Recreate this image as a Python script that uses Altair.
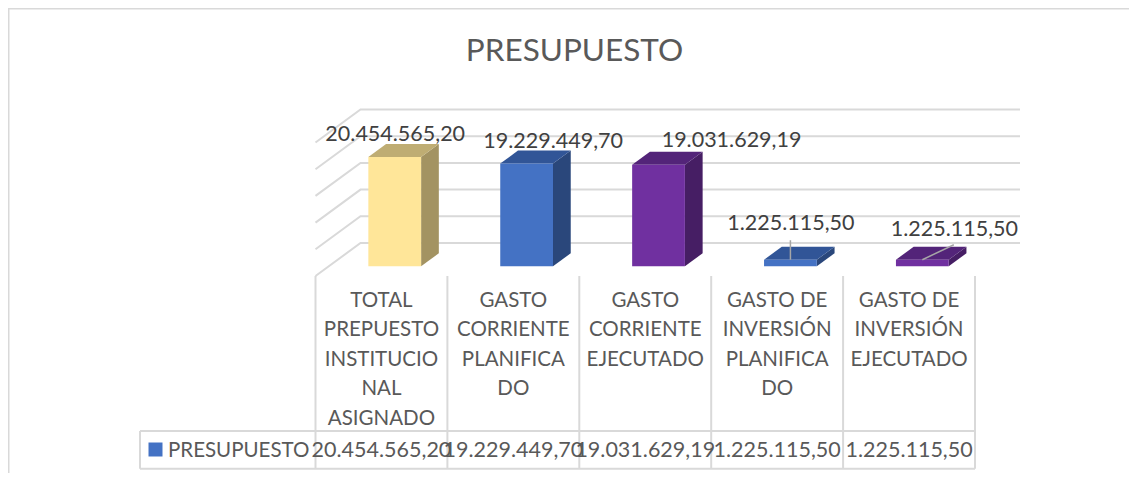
import altair as alt
import pandas as pd

# ---- chart data ----
categories = ["TOTAL\nPREPUESTO\nINSTITUCIO\nNAL\nASIGNADO",
              "GASTO\nCORRIENTE\nPLANIFICA\nDO",
              "GASTO\nCORRIENTE\nEJECUTADO",
              "GASTO DE\nINVERSIÓN\nPLANIFICA\nDO",
              "GASTO DE\nINVERSIÓN\nEJECUTADO"]
values = [20454565.20, 19229449.70, 19031629.19, 1225115.50, 1225115.50]
axis_ticks = [0, 5e6, 10e6, 15e6, 20e6, 25e6]
series_name = "PRESUPUESTO"

front_colors = ["#FFE699", "#4472C4", "#7030A0", "#4472C4", "#7030A0"]
side_colors = ["#A39362", "#2A477B", "#461E64", "#2A477B", "#461E64"]
top_colors = ["#BFAD73", "#315597", "#532479", "#315597", "#532479"]

# ---- layout of the oblique projection ----
PX_PER_CAT = 131.9
PX_PER_VAL = 5.34 / 1e6
DEPTH_X = 45 / PX_PER_CAT          # shift in categories for a full floor depth
DEPTH_Y = 33 / PX_PER_VAL          # shift in value units for a full floor depth
BAR_W = 0.4
D0, D1 = 0.295, 0.689              # bar depth range on the floor

# label offsets in pixels, from the bar's front top centre
label_dx = [0.5, 26.5, 73, 0.5, 32]
label_dy = [-22, -22, -24, -35.5, -30]
leader_end = {3: (0, -19.5), 4: (31.5, -15)}

x_scale = alt.Scale(domain=[(8 - 315.5) / PX_PER_CAT, (1129 - 315.5) / PX_PER_CAT],
                    range=[0, 1121], nice=False, zero=False)
y_scale = alt.Scale(domain=[(276 - 473) / PX_PER_VAL, (276 - 8) / PX_PER_VAL],
                    range=[465, 0], nice=False, zero=False)
X = alt.X("x:Q", scale=x_scale, axis=None)
Y = alt.Y("y:Q", scale=y_scale, axis=None, stack=None)
Y2 = alt.Y2("y2:Q")
X2 = alt.X2("x2:Q")

FONT = "Lato"
GRID = "#D9D9D9"
LINE_W = 2
TXT = "#595959"
LBL = "#404040"


def proj_x(c, d):
    return c + d * DEPTH_X


def proj_y(v, d):
    return v + d * DEPTH_Y


# walls
wall_rows = []
for t in axis_ticks:
    wall_rows += [
        {"id": t, "x": proj_x(0, 0), "y": proj_y(t, 0)},
        {"id": t, "x": proj_x(0, 1), "y": proj_y(t, 1)},
        {"id": t, "x": proj_x(len(values), 1), "y": proj_y(t, 1)},
    ]
walls = alt.Chart(pd.DataFrame(wall_rows)).mark_line(
    color=GRID, strokeWidth=LINE_W
).encode(x=X, y=Y, detail="id:N")

# bar faces
front_rows, side_rows, top_rows = [], [], []
for i, v in enumerate(values):
    xl, xr = i + 0.5 - BAR_W / 2, i + 0.5 + BAR_W / 2
    front_rows.append({"x": proj_x(xl, D0), "x2": proj_x(xr, D0),
                       "y": proj_y(0, D0), "y2": proj_y(v, D0),
                       "fill": front_colors[i]})
    side_rows += [
        {"b": i, "x": proj_x(xr, D0), "y": proj_y(0, D0), "y2": proj_y(v, D0), "fill": side_colors[i]},
        {"b": i, "x": proj_x(xr, D1), "y": proj_y(0, D1), "y2": proj_y(v, D1), "fill": side_colors[i]},
    ]
    top_low, top_high = proj_y(v, D0), proj_y(v, D1)
    top_rows += [
        {"b": i, "x": proj_x(xl, D0), "y": top_low, "y2": top_low, "fill": top_colors[i]},
        {"b": i, "x": proj_x(xl, D1), "y": top_low, "y2": top_high, "fill": top_colors[i]},
        {"b": i, "x": proj_x(xr, D0), "y": top_low, "y2": top_high, "fill": top_colors[i]},
        {"b": i, "x": proj_x(xr, D1), "y": top_high, "y2": top_high, "fill": top_colors[i]},
    ]
Fill = alt.Color("fill:N", scale=None, legend=None)
sides = alt.Chart(pd.DataFrame(side_rows)).mark_area(interpolate="linear").encode(
    x=X, y=Y, y2=Y2, color=Fill, detail="b:N")
tops = alt.Chart(pd.DataFrame(top_rows)).mark_area(interpolate="linear").encode(
    x=X, y=Y, y2=Y2, color=Fill, detail="b:N")
fronts = alt.Chart(pd.DataFrame(front_rows)).mark_rect().encode(
    x=X, x2=X2, y=Y, y2=Y2, color=Fill)


def es_number(v):
    return f"{v:,.2f}".replace(",", "#").replace(".", ",").replace("#", ".")


# leader lines
leader_rows = []
for i, (dx, dy) in leader_end.items():
    x0, y0 = proj_x(i + 0.5, D0), proj_y(values[i], D0)
    leader_rows += [{"id": i, "x": x0, "y": y0},
                    {"id": i, "x": x0 + dx / PX_PER_CAT, "y": y0 - dy / PX_PER_VAL}]
leaders = alt.Chart(pd.DataFrame(leader_rows)).mark_line(
    color="#A6A6A6", strokeWidth=1.5).encode(x=X, y=Y, detail="id:N")

# data labels
label_layers = []
for i, v in enumerate(values):
    row = pd.DataFrame([{"x": proj_x(i + 0.5, D0), "y": proj_y(v, D0), "t": es_number(v)}])
    label_layers.append(
        alt.Chart(row).mark_text(font=FONT, fontSize=21.5, color=LBL, align="center",
                                 baseline="middle", dx=label_dx[i], dy=label_dy[i]
                                 ).encode(x=X, y=Y, text="t:N"))

# data table
cells = pd.DataFrame({"x": [i + 0.5 for i in range(len(values))],
                      "cat": categories,
                      "val": [es_number(v) for v in values]})
bounds = pd.DataFrame({"x": list(range(len(values) + 1))})
table_v = alt.Chart(bounds).mark_rule(color=GRID, strokeWidth=LINE_W).encode(
    x=X, y=alt.value(268), y2=alt.value(460.7))
table_left = alt.Chart(bounds.head(1)).mark_rule(color=GRID, strokeWidth=LINE_W).encode(
    x=alt.value(132), y=alt.value(423), y2=alt.value(460.7))
table_top = alt.Chart(bounds.head(1)).mark_rule(color=GRID, strokeWidth=LINE_W).encode(
    x=alt.value(132), x2=alt.value(967), y=alt.value(423))
table_bottom = alt.Chart(bounds.head(1)).mark_rule(color=GRID, strokeWidth=LINE_W).encode(
    x=alt.value(132), x2=alt.value(967), y=alt.value(460.7))
cat_text = alt.Chart(cells).mark_text(font=FONT, fontSize=20.5, color=TXT, align="center",
                                      baseline="top", lineBreak="\n", lineHeight=29.4).encode(
    x=X, y=alt.value(283), text="cat:N")
val_text = alt.Chart(cells).mark_text(font=FONT, fontSize=21.5, color=TXT, align="center",
                                      baseline="middle").encode(
    x=X, y=alt.value(443), text="val:N")
legend_key = alt.Chart(pd.DataFrame({"s": [series_name]})).mark_square(
    size=196, color="#4472C4", opacity=1).encode(x=alt.value(147.5), y=alt.value(441.5))
legend_text = alt.Chart(pd.DataFrame({"s": [series_name]})).mark_text(
    font=FONT, fontSize=20.5, color=TXT, align="left", baseline="middle").encode(
    x=alt.value(160), y=alt.value(443), text="s:N")

# chart frame
frame_left = alt.Chart(bounds.head(1)).mark_rule(color=GRID, strokeWidth=3).encode(
    x=alt.value(0), y=alt.value(0), y2=alt.value(465))
frame_top = alt.Chart(bounds.head(1)).mark_rule(color=GRID, strokeWidth=3).encode(
    y=alt.value(0), x=alt.value(0), x2=alt.value(1121))

chart = alt.layer(
    frame_left, frame_top, walls, sides, tops, fronts, leaders, *label_layers,
    table_v, table_left, table_top, table_bottom, cat_text, val_text, legend_key, legend_text,
).properties(
    width=1121, height=465, padding=0,
    autosize=alt.AutoSizeParams(type="none"),
    title=alt.TitleParams(series_name, font=FONT, fontSize=31.5, fontWeight="normal",
                          color=TXT, anchor="middle", frame="group", dx=6, offset=-61),
    background="#FFFFFF",
).configure_view(stroke=None)

chart.save("out.html", embed_options={"renderer": "svg", "actions": False})
